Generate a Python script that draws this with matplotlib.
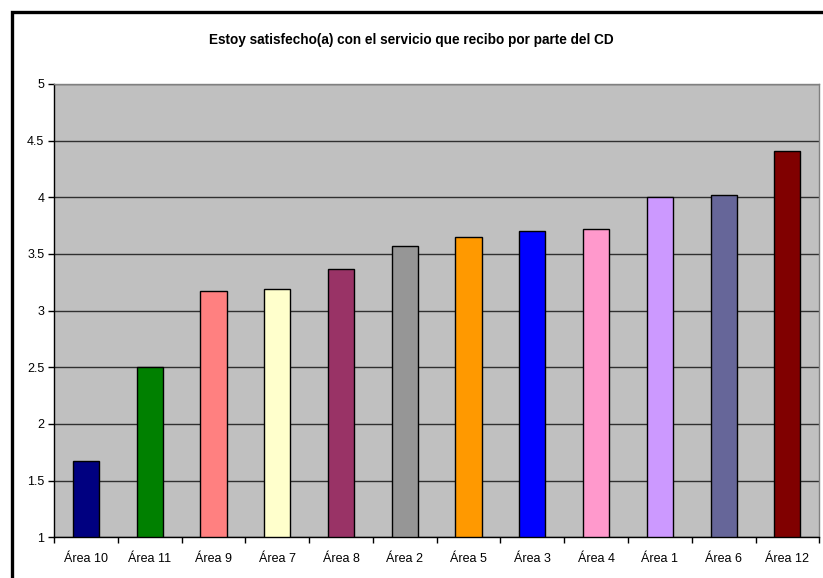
import matplotlib
matplotlib.use("Agg")
import matplotlib.pyplot as plt
from matplotlib.patches import Rectangle
import numpy as np

plt.rcParams['font.family'] = ['Liberation Sans', 'DejaVu Sans']

areas = ['Área 10', 'Área 11', 'Área 9', 'Área 7', 'Área 8', 'Área 2',
         'Área 5', 'Área 3', 'Área 4', 'Área 1', 'Área 6', 'Área 12']
scores = [1.67, 2.50, 3.17, 3.19, 3.37, 3.57, 3.65, 3.70, 3.72, 4.00, 4.02, 4.41]
colors = ['#000080', '#008000', '#FF8080', '#FFFFCC', '#993366', '#969696',
          '#FF9900', '#0000FF', '#FF99CC', '#CC99FF', '#666699', '#800000']
yticks = [1, 1.5, 2, 2.5, 3, 3.5, 4, 4.5, 5]

fig = plt.figure(figsize=(8.23, 5.78), dpi=100)
ax = fig.add_axes([0.0656, 0.0704, 0.9299, 0.7843])

x = np.arange(len(areas))
ax.bar(x, np.array(scores) - 1, bottom=1, width=0.41, color=colors,
       edgecolor='black', linewidth=1.0, zorder=3)

ax.set_facecolor('#C0C0C0')
ax.set_xlim(-0.5, len(areas) - 0.5)
ax.set_ylim(1, 5)
ax.set_yticks(yticks)
ax.set_yticklabels(['1', '1.5', '2', '2.5', '3', '3.5', '4', '4.5', '5'])
ax.yaxis.grid(True, color='#303030', linewidth=1.0, zorder=1)
ax.set_axisbelow(True)

# category labels centred, tick marks on the boundaries
ax.set_xticks(x)
ax.set_xticklabels(areas)
ax.set_xticks(np.arange(len(areas) + 1) - 0.5, minor=True)
ax.tick_params(axis='x', which='major', length=0, pad=11, labelsize=9)
ax.tick_params(axis='x', which='minor', length=4, width=1, color='black')
ax.tick_params(axis='y', length=4, width=1, color='black', labelsize=9, pad=3)

for side in ['top', 'right']:
    ax.spines[side].set_color('#808080')
    ax.spines[side].set_linewidth(1)
for side in ['left', 'bottom']:
    ax.spines[side].set_color('black')
    ax.spines[side].set_linewidth(1)

fig.text(0.5, 0.930, 'Estoy satisfecho(a) con el servicio que recibo por parte del CD',
         ha='center', va='center', fontsize=9.8, fontweight='bold')

# thick outer border running off the right and bottom edges
fig.patches.append(Rectangle((0.0146, -0.1), 1.2, 1.0792, transform=fig.transFigure,
                             fill=False, edgecolor='black', linewidth=2.4))

fig.savefig('out.png', dpi=100)
